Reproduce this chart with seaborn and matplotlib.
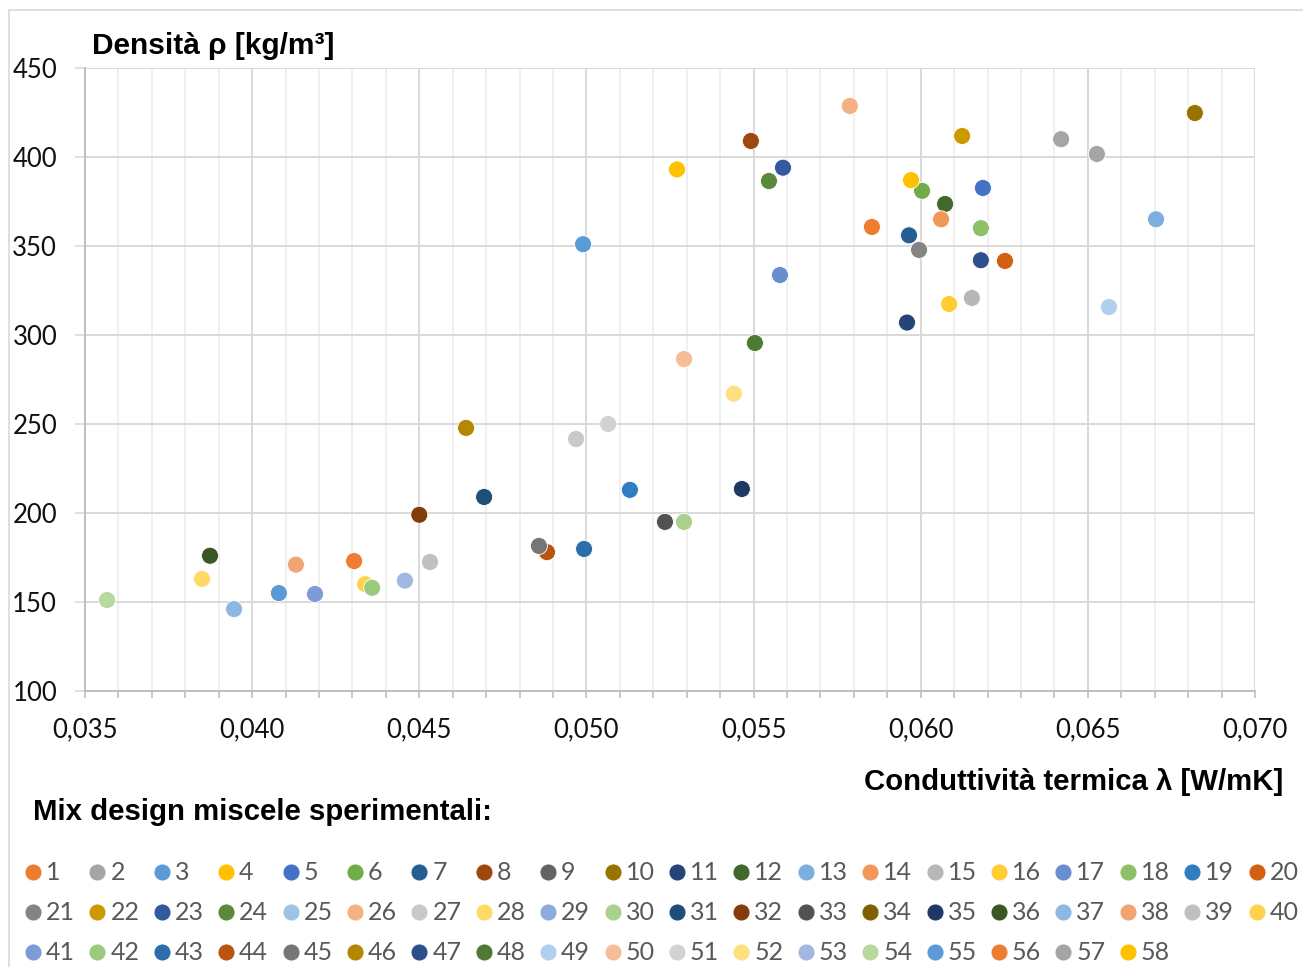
import numpy as np
import pandas as pd
import matplotlib
matplotlib.use("Agg")
import matplotlib.pyplot as plt
from matplotlib.ticker import MultipleLocator, FuncFormatter
from matplotlib.patches import Rectangle
import seaborn as sns

# ---------------------------------------------------------------------------
# Data (NaN = mix not visible in the plot)
# ---------------------------------------------------------------------------

mix_ids = [str(i) for i in range(1, 59)]

conductivity = [
    0.04305, 0.06420, 0.04990, 0.05271, 0.06186, 0.06004, 0.05965, 0.05492, np.nan, 0.06820,
    0.05959, 0.06073, 0.06704, 0.06061, 0.06153, 0.06085, 0.05579, 0.06180, 0.05130, 0.06252,
    0.05995, 0.06124, 0.05588, 0.05546, np.nan, 0.05788, 0.04969, 0.03850, np.nan, 0.05292,
    0.04694, 0.04500, 0.05235, np.nan, 0.05465, 0.03874, 0.03946, 0.04131, 0.04532, 0.04338,
    0.04188, 0.04359, 0.04993, 0.04882, 0.04858, 0.04640, 0.06180, 0.05504, 0.06563, 0.05292,
    0.05065, 0.05441, 0.04457, 0.03566, 0.04080, 0.05854, 0.06527, 0.05971,
]

density = [
    173.0, 410.0, 351.0, 393.0, 382.6, 381.0, 356.0, 409.0, np.nan, 424.7,
    307.0, 373.6, 365.0, 365.0, 320.8, 317.4, 333.7, 360.0, 213.0, 341.6,
    347.8, 411.8, 394.0, 386.5, np.nan, 428.7, 241.6, 163.0, np.nan, 195.0,
    209.0, 199.0, 195.0, np.nan, 213.5, 176.0, 146.0, 171.0, 172.5, 160.0,
    154.5, 158.0, 179.8, 178.0, 181.5, 247.8, 342.0, 295.5, 315.7, 286.5,
    250.0, 267.0, 162.0, 151.1, 155.0, 360.7, 401.7, 387.0,
]

mix_colors = [
    "#ED7D31", "#A5A5A5", "#5B9BD5", "#FFC000", "#4472C4", "#70AD47",
    "#255E91", "#9E480E", "#636363", "#997300", "#264478", "#43682B",
    "#7CAFDD", "#F1975A", "#B7B7B7", "#FFCD33", "#698ED0", "#8CC168",
    "#327DC2", "#D26012", "#848484", "#CC9A00", "#335AA1", "#5A8A39",
    "#9DC3E6", "#F4B183", "#C9C9C9", "#FFD966", "#8FAADC", "#A9D18E",
    "#1F4E79", "#843C0C", "#525252", "#7F6000", "#203864", "#385723",
    "#8CB8E3", "#F2A574", "#C0C0C0", "#FFD24D", "#7E9BD7", "#9BCA7E",
    "#2C6EAB", "#B9550F", "#767676", "#B38700", "#2D4F8C", "#4E7A33",
    "#B0D0ED", "#F6BE98", "#D2D2D2", "#FFDF7F", "#A2B8E3", "#B7D9A0",
    "#5B9BD5", "#ED7D31", "#A5A5A5", "#FFC000",
]

x_ticks = [0.035, 0.040, 0.045, 0.050, 0.055, 0.060, 0.065, 0.070]
y_ticks = [100, 150, 200, 250, 300, 350, 400, 450]

df = pd.DataFrame({"mix": mix_ids, "lam": conductivity, "rho": density})
palette = dict(zip(mix_ids, mix_colors))

# ---------------------------------------------------------------------------
# Figure
# ---------------------------------------------------------------------------

sns.set_style("white")
plt.rcParams["font.family"] = ["Lato", "DejaVu Sans"]
TITLE_FONT = ["Liberation Sans", "DejaVu Sans"]

W, H = 1303, 967
fig = plt.figure(figsize=(W / 100, H / 100), dpi=100)
fig.patch.set_facecolor("white")

ax = fig.add_axes([85 / W, 1 - 691 / H, 1170 / W, 623 / H])

sns.scatterplot(
    data=df.dropna(), x="lam", y="rho", hue="mix", palette=palette,
    s=150, edgecolor="white", linewidth=0.6, legend=False, ax=ax, zorder=3,
)

ax.set_xlim(x_ticks[0], x_ticks[-1])
ax.set_ylim(y_ticks[0], y_ticks[-1])
ax.set_xticks(x_ticks)
ax.set_yticks(y_ticks)
ax.xaxis.set_minor_locator(MultipleLocator(0.001))
ax.xaxis.set_major_formatter(FuncFormatter(lambda v, _: f"{v:.3f}".replace(".", ",")))
ax.set_xlabel("")
ax.set_ylabel("")

ax.grid(which="major", color="#D9D9D9", linewidth=1.4, zorder=0)
ax.grid(which="minor", axis="x", color="#F0F0F0", linewidth=1.4, zorder=0)
ax.set_axisbelow(True)

for side in ["top", "right"]:
    ax.spines[side].set_visible(False)
for side in ["left", "bottom"]:
    ax.spines[side].set_color("#BFBFBF")
    ax.spines[side].set_linewidth(1.4)

ax.tick_params(axis="x", which="both", direction="out", length=5, width=1.2,
               color="#BFBFBF", bottom=True, labelsize=18.5, labelcolor="#111111", pad=14)
ax.tick_params(axis="y", which="major", direction="out", length=7, width=1.2,
               color="#D9D9D9", left=True, labelsize=18.5, labelcolor="#111111", pad=13)

# axis titles
fig.text(92 / W, 1 - 46 / H, "Densità ρ [kg/m³]", family=TITLE_FONT,
         fontsize=21.5, fontweight="bold", ha="left", va="center", color="black")
fig.text(1283 / W, 1 - 782 / H, "Conduttività termica λ [W/mK]", family=TITLE_FONT,
         fontsize=21.2, fontweight="bold", ha="right", va="center", color="black")
fig.text(33 / W, 1 - 812 / H, "Mix design miscele sperimentali:", family=TITLE_FONT,
         fontsize=21.2, fontweight="bold", ha="left", va="center", color="black")

# chart-area border
fig.add_artist(Rectangle((9 / W, -0.1), 1.2, 1 - 10 / H + 0.1, transform=fig.transFigure,
                         fill=False, edgecolor="#D9D9D9", linewidth=1.2))

# legend: 20 columns x 3 rows, row-major like Excel
leg = fig.add_axes([0, 0, 1, 1])
leg.set_xlim(0, W)
leg.set_ylim(H, 0)
leg.axis("off")
leg.patch.set_alpha(0)
col_pitch, row_pitch = 64.4, 40.0
for i, (mid, col) in enumerate(zip(mix_ids, mix_colors)):
    r, c = divmod(i, 20)
    x0 = 33 + c * col_pitch
    y0 = 872 + r * row_pitch
    leg.scatter([x0], [y0], s=150, color=col, edgecolor="white", linewidth=0.6)
    leg.text(x0 + 13, y0, mid, fontsize=18, color="#595959", ha="left", va="center")

fig.savefig("out.png", dpi=100, facecolor="white")
